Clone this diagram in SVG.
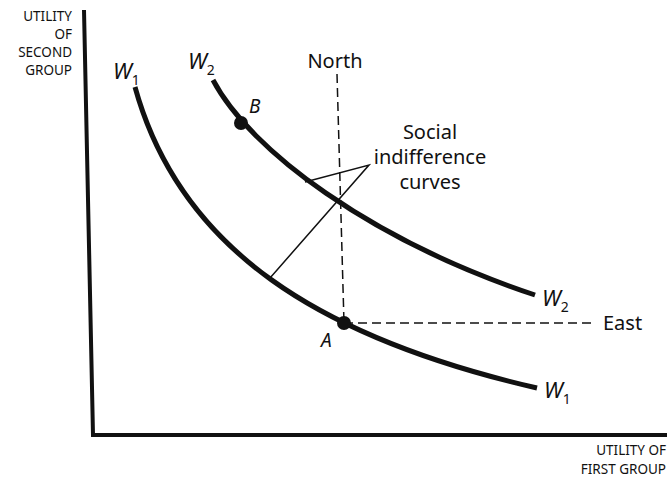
<svg xmlns="http://www.w3.org/2000/svg" width="671" height="479" viewBox="0 0 671 479">
<style>
text{font-family:"Noto Sans","Open Sans","Liberation Sans",sans-serif;fill:#111}
.ax{font-size:13.5px}
.lab{font-size:20px}
.w{font-size:22px;font-style:italic}
.sub{font-size:14px;font-style:normal}
.curve{fill:none;stroke:#111;stroke-width:5;stroke-linecap:butt}
.dash{fill:none;stroke:#111;stroke-width:1.5;stroke-dasharray:9,5}
.lead{fill:none;stroke:#111;stroke-width:1.5}
</style>
<rect width="671" height="479" fill="#fff"/>
<g id="axes">
<path d="M84,10 L93,435 L667,435" fill="none" stroke="#111" stroke-width="4"/>
<text class="ax" x="72" y="21" text-anchor="end">UTILITY</text>
<text class="ax" x="72" y="39" text-anchor="end">OF</text>
<text class="ax" x="72" y="57" text-anchor="end">SECOND</text>
<text class="ax" x="72" y="75" text-anchor="end">GROUP</text>
<text class="ax" x="666" y="455" text-anchor="end">UTILITY OF</text>
<text class="ax" x="666" y="474" text-anchor="end">FIRST GROUP</text>
</g>
<g id="connectors">
<path class="dash" d="M337,74 L344,323"/>
<path class="dash" d="M344,323 L596,323"/>
<path class="lead" d="M305,182 L369,165 L270,278"/>
</g>
<g id="W1">
<path class="curve" d="M135,87 C180,250 320,338 537,388"/>
<text class="w" x="113" y="79">W<tspan class="sub" dy="6">1</tspan></text>
<text class="w" x="544" y="398">W<tspan class="sub" dy="6">1</tspan></text>
</g>
<g id="W2">
<path class="curve" d="M213,80 C250,150 370,240 535,295"/>
<text class="w" x="188" y="69">W<tspan class="sub" dy="6">2</tspan></text>
<text class="w" x="542" y="306">W<tspan class="sub" dy="6">2</tspan></text>
</g>
<g id="pointB">
<circle cx="241" cy="123" r="7" fill="#111"/>
<text class="w" x="249" y="113" style="font-size:19px">B</text>
</g>
<g id="pointA">
<circle cx="344" cy="323" r="7" fill="#111"/>
<text class="w" x="321" y="347" style="font-size:19px">A</text>
</g>
<g id="north"><text class="lab" x="335" y="68" text-anchor="middle">North</text></g>
<g id="east"><text class="lab" x="603" y="330">East</text></g>
<g id="social">
<text class="lab" x="430" y="139" text-anchor="middle">Social</text>
<text class="lab" x="430" y="164" text-anchor="middle">indifference</text>
<text class="lab" x="430" y="189" text-anchor="middle">curves</text>
</g>
</svg>
